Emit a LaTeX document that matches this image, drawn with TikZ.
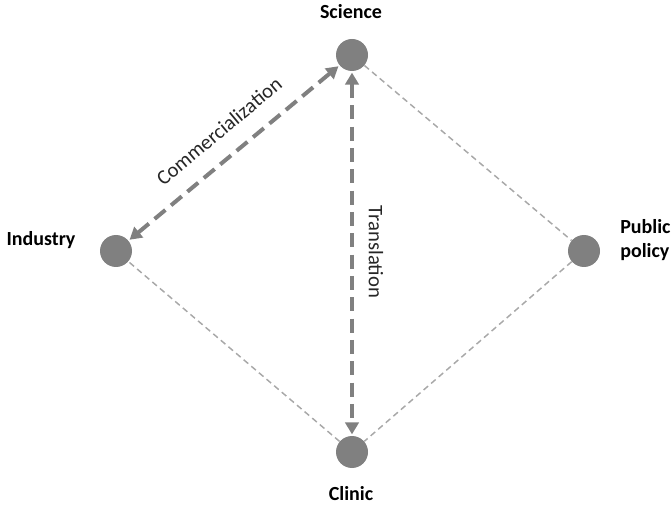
\documentclass[tikz,border=0pt]{standalone}
\usepackage{fontspec}
\setmainfont{Carlito}
\usetikzlibrary{arrows.meta}
\definecolor{dotgray}{HTML}{808080}
\definecolor{thingray}{HTML}{A8A8A8}
\tikzset{
  vertex/.style={circle, fill=dotgray, minimum size=24pt, inner sep=0pt},
  vlabel/.style={font=\bfseries\fontsize{15}{17.5}\selectfont, text=black, inner sep=0pt},
  elabel/.style={font=\fontsize{15.5}{18}\selectfont, text=black!85, inner sep=0pt},
  flow/.style={draw=dotgray, line width=3pt, dash pattern=on 10.5pt off 5.5pt,
    {Triangle[length=9pt,width=10pt]}-{Triangle[length=9pt,width=10pt]}, shorten <=1pt, shorten >=1pt},
  link/.style={draw=thingray, line width=1.1pt, dash pattern=on 4.5pt off 3pt}
}
\begin{document}
\begin{tikzpicture}[x=0.75pt,y=-0.75pt]
\useasboundingbox (0,0) rectangle (672,506);
\node[vertex] (sci) at (352,55) {};
\node[vertex] (ind) at (116,251) {};
\node[vertex] (pub) at (584,251) {};
\node[vertex] (cli) at (352,452) {};
\node[vlabel] (tsci) at (351,12) {Science};
\node[vlabel] (tind) at (41,240) {Industry};
\node[vlabel, align=left, anchor=west] (tpub) at (620,240) {Public\\policy};
\node[vlabel] (tcli) at (351,494) {Clinic};
\draw[link] (sci) -- (pub);
\draw[link] (pub) -- (cli);
\draw[link] (cli) -- (ind);
\draw[flow] (ind) -- (sci);
\draw[flow] (sci) -- (cli);
\node[elabel, rotate=39.7] (tcom) at (219,131) {Commercialization};
\node[elabel, rotate=-90] (ttra) at (376,252) {Translation};
\end{tikzpicture}
\end{document}
